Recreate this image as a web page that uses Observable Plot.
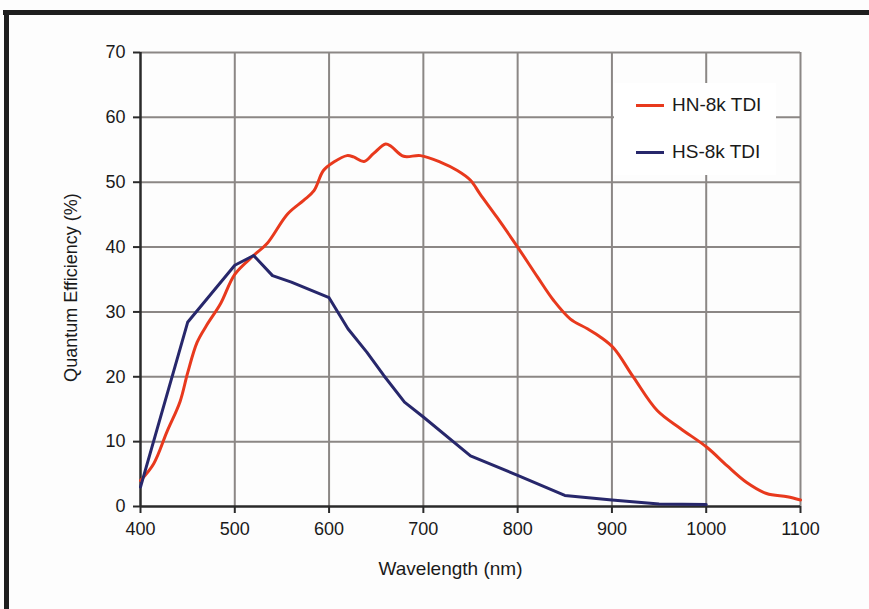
<!DOCTYPE html>
<html>
<head>
<meta charset="utf-8">
<script src="https://cdn.jsdelivr.net/npm/d3@7"></script>
<script src="https://cdn.jsdelivr.net/npm/@observablehq/plot@0.6"></script>
<style>
  html, body { margin: 0; padding: 0; background: #ffffff; }
  #wrap { position: relative; width: 869px; height: 609px; overflow: hidden; background: #fdfdfd; font-family: "Liberation Sans", Arial, sans-serif; }
  #topbar { position: absolute; left: 3px; top: 10px; width: 866px; height: 5px; background: #1e1e1e; }
  #leftbar { position: absolute; left: 4px; top: 10px; width: 5px; height: 599px; background: #1e1e1e; }
  #legend { position: absolute; left: 614px; top: 83px; width: 162px; height: 92px; background: #ffffff; }
  .li { position: absolute; left: 22px; height: 22px; display: flex; align-items: center; font-size: 19px; color: #1a1a1a; }
  .li span.sw { display: inline-block; width: 28px; height: 3px; margin-right: 8px; }
</style>
</head>
<body>
<div id="wrap">
  <div id="chart"></div>
  <div id="topbar"></div>
  <div id="leftbar"></div>
  <div id="legend"></div>
</div>
<script>
const seriesNames = ["HN-8k TDI", "HS-8k TDI"];
const seriesColors = ["#e8391d", "#27276b"];

const hnWavelength = [400, 414, 428, 442, 450, 460, 470, 485, 500, 520, 534, 556, 573, 584, 594, 605, 619, 626, 637, 647, 660, 666, 679, 697, 718, 736, 750, 760, 778, 800, 821, 838, 856, 874, 888, 902, 923, 948, 973, 1001, 1022, 1043, 1064, 1086, 1100];
const hnQE = [4.0, 6.6, 11.5, 16.2, 20.6, 25.3, 27.9, 31.3, 35.8, 38.7, 40.5, 45.1, 47.2, 48.7, 51.8, 53.1, 54.1, 53.9, 53.2, 54.4, 55.9, 55.5, 54.0, 54.1, 53.1, 51.8, 50.3, 48.2, 44.6, 40.0, 35.4, 31.8, 28.9, 27.4, 26.1, 24.4, 19.9, 14.8, 12.0, 9.1, 6.3, 3.7, 2.0, 1.5, 1.0];

const hsWavelength = [400, 450, 500, 520, 540, 560, 600, 620, 640, 658, 680, 700, 750, 800, 850, 900, 950, 1000];
const hsQE = [3.0, 28.4, 37.2, 38.7, 35.6, 34.6, 32.2, 27.4, 23.8, 20.2, 16.1, 13.8, 7.8, 4.8, 1.7, 1.0, 0.4, 0.3];

const xTicks = [400, 500, 600, 700, 800, 900, 1000, 1100];
const yTicks = [0, 10, 20, 30, 40, 50, 60, 70];
const xLabel = "Wavelength (nm)";
const yLabel = "Quantum Efficiency (%)";

const hn = hnWavelength.map((w, i) => ({w, q: hnQE[i]}));
const hs = hsWavelength.map((w, i) => ({w, q: hsQE[i]}));

const gridColor = "#8b8785";
const axisColor = "#2a2a2a";
const textColor = "#1a1a1a";

const chart = Plot.plot({
  width: 869,
  height: 609,
  marginLeft: 140,
  marginRight: 69,
  marginTop: 52,
  marginBottom: 103,
  style: {fontFamily: "'Liberation Sans', Arial, sans-serif", fontSize: "18px", background: "transparent", color: textColor},
  x: {domain: [400, 1100]},
  y: {domain: [0, 70]},
  marks: [
    Plot.gridX(xTicks.filter(d => d > 400), {stroke: gridColor, strokeOpacity: 1, strokeWidth: 2}),
    Plot.gridY(yTicks.filter(d => d > 0), {stroke: gridColor, strokeOpacity: 1, strokeWidth: 2}),
    Plot.axisX({ticks: xTicks, tickFormat: d => String(d), tickSize: 7, tickPadding: 9, label: null, stroke: axisColor, strokeWidth: 2, fill: textColor, fontSize: 18}),
    Plot.axisY({ticks: yTicks, tickFormat: d => String(d), tickSize: 7, tickPadding: 8, label: null, stroke: axisColor, strokeWidth: 2, fill: textColor, fontSize: 18}),
    Plot.ruleX([400], {stroke: axisColor, strokeWidth: 2.5}),
    Plot.ruleY([0], {stroke: axisColor, strokeWidth: 2.5}),
    Plot.line(hn, {x: "w", y: "q", stroke: seriesColors[0], strokeWidth: 3, curve: "catmull-rom"}),
    Plot.line(hs, {x: "w", y: "q", stroke: seriesColors[1], strokeWidth: 3, curve: "linear"}),
    Plot.text([xLabel], {frameAnchor: "bottom", textAnchor: "middle", lineAnchor: "middle", dx: -20, dy: 62, fontSize: 19, fill: textColor}),
    Plot.text([yLabel], {frameAnchor: "left", textAnchor: "middle", lineAnchor: "middle", dx: -69, dy: 8, rotate: -90, fontSize: 18, fill: textColor})
  ]
});
document.getElementById("chart").appendChild(chart);

const legend = document.getElementById("legend");
seriesNames.forEach((name, i) => {
  const row = document.createElement("div");
  row.className = "li";
  row.style.top = (i === 0 ? 11 : 58) + "px";
  const sw = document.createElement("span");
  sw.className = "sw";
  sw.style.background = seriesColors[i];
  row.appendChild(sw);
  row.appendChild(document.createTextNode(name));
  legend.appendChild(row);
});
</script>
</body>
</html>
